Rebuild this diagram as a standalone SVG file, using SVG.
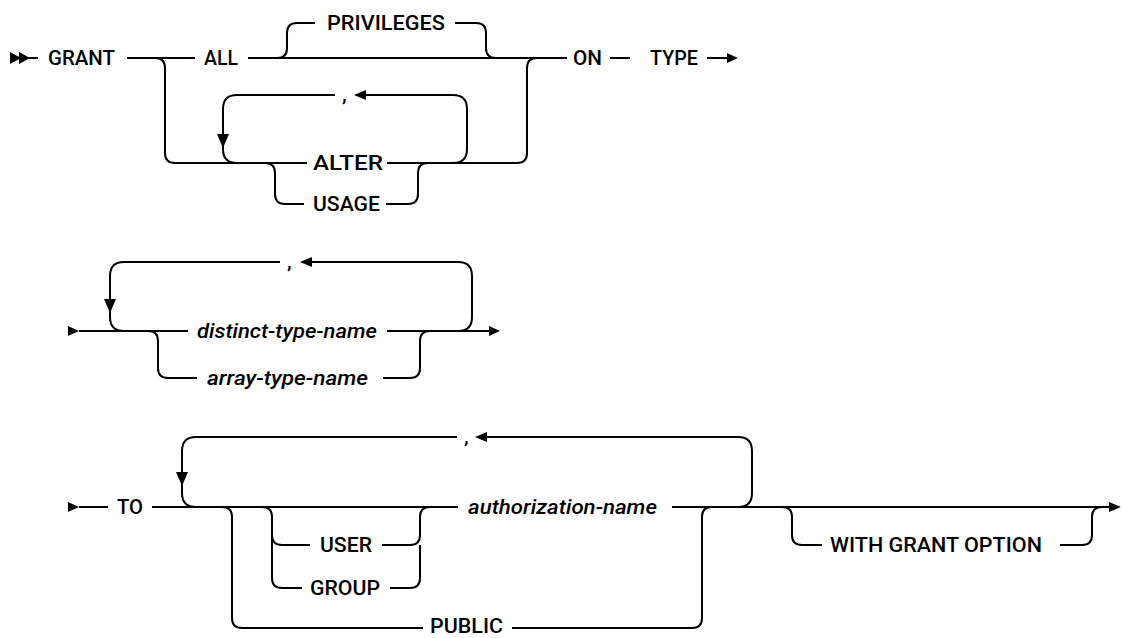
<svg xmlns="http://www.w3.org/2000/svg" width="1122" height="638" viewBox="0 0 1122 638">
<style>
.ln{fill:none;stroke:#000;stroke-width:2;stroke-linejoin:round}
.ah{fill:#000;stroke:none}
.kw{font-family:Roboto,"Liberation Sans",sans-serif;font-size:21px;font-weight:500;fill:#000}
.it{font-family:Roboto,"Liberation Sans",sans-serif;font-size:21px;font-weight:500;font-style:italic;fill:#000}
</style>
<rect width="1122" height="638" fill="#fff"/>
<g id="connectors">
<!-- row 1 -->
<path class="ln" d="M29,58 L38,58"/>
<path class="ln" d="M127,58 L195,58"/>
<path class="ln" d="M155,58 Q165,58 165,68 L165,153 Q165,163 175,163 L307,163"/>
<path class="ln" d="M248,58 L567,58"/>
<path class="ln" d="M277,58 Q287,58 287,48 L287,33 Q287,23 297,23 L315,23"/>
<path class="ln" d="M455,23 L476,23 Q486,23 486,33 L486,48 Q486,58 496,58"/>
<path class="ln" d="M537,58 Q527,58 527,68 L527,153 Q527,163 517,163 L387,163"/>
<path class="ln" d="M453,163 Q467,163 467,149 L467,109 Q467,95 453,95 L364,95"/>
<path class="ln" d="M335,95 L237,95 Q223,95 223,109 L223,149 Q223,163 237,163"/>
<path class="ln" d="M265,163 Q275,163 275,173 L275,194 Q275,204 285,204 L304,204"/>
<path class="ln" d="M386,204 L408,204 Q418,204 418,194 L418,173 Q418,163 428,163"/>
<path class="ln" d="M610,58 L630,58"/>
<path class="ln" d="M707,58 L729,58"/>
<polygon class="ah" points="10,52 21,58 10,64"/>
<polygon class="ah" points="19,52 30,58 19,64"/>
<polygon class="ah" points="217,134 229,134 223,148"/>
<polygon class="ah" points="366,90 366,100 354,95"/>
<polygon class="ah" points="727,53 738,58 727,63"/>
<!-- row 2 -->
<path class="ln" d="M79,331 L188,331"/>
<path class="ln" d="M280,262 L124,262 Q110,262 110,276 L110,317 Q110,331 124,331"/>
<path class="ln" d="M148,331 Q158,331 158,341 L158,368 Q158,378 168,378 L197,378"/>
<path class="ln" d="M383,378 L410,378 Q420,378 420,368 L420,341 Q420,331 430,331"/>
<path class="ln" d="M387,331 L491,331"/>
<path class="ln" d="M458,331 Q472,331 472,317 L472,276 Q472,262 458,262 L310,262"/>
<polygon class="ah" points="68,326 79,331 68,336"/>
<polygon class="ah" points="104,299 116,299 110,313"/>
<polygon class="ah" points="312,257 312,267 300,262"/>
<polygon class="ah" points="489,326 500,331 489,336"/>
<!-- row 3 -->
<path class="ln" d="M79,507 L108,507"/>
<path class="ln" d="M152,507 L458,507"/>
<path class="ln" d="M457,437 L196,437 Q182,437 182,451 L182,493 Q182,507 196,507"/>
<path class="ln" d="M222,507 Q232,507 232,517 L232,618 Q232,628 242,628 L423,628"/>
<path class="ln" d="M262,507 Q272,507 272,517 L272,578 Q272,588 282,588 L302,588"/>
<path class="ln" d="M272,535 Q272,545 282,545 L310,545"/>
<path class="ln" d="M382,545 L410,545 Q420,545 420,535 L420,517 Q420,507 430,507"/>
<path class="ln" d="M390,588 L410,588 Q420,588 420,578 L420,545"/>
<path class="ln" d="M672,507 L1110,507"/>
<path class="ln" d="M738,507 Q752,507 752,493 L752,451 Q752,437 738,437 L487,437"/>
<path class="ln" d="M512,628 L692,628 Q702,628 702,618 L702,517 Q702,507 712,507"/>
<path class="ln" d="M782,507 Q792,507 792,517 L792,535 Q792,545 802,545 L822,545"/>
<path class="ln" d="M1060,545 L1082,545 Q1092,545 1092,535 L1092,517 Q1092,507 1102,507"/>
<polygon class="ah" points="68,502 79,507 68,512"/>
<polygon class="ah" points="176,472 188,472 182,486"/>
<polygon class="ah" points="487,432 487,442 475,437"/>
<polygon class="ah" points="1109,502 1121,507 1109,512"/>
</g>
<g id="n-grant"><text class="kw" x="48" y="65" textLength="67" lengthAdjust="spacingAndGlyphs">GRANT</text></g>
<g id="n-all"><text class="kw" x="204" y="65" textLength="34" lengthAdjust="spacingAndGlyphs">ALL</text></g>
<g id="n-privileges"><text class="kw" x="327" y="30" textLength="118" lengthAdjust="spacingAndGlyphs">PRIVILEGES</text></g>
<g id="n-comma1"><text class="kw" x="342" y="101">,</text></g>
<g id="n-alter"><text class="kw" x="313" y="170" textLength="70" lengthAdjust="spacingAndGlyphs">ALTER</text></g>
<g id="n-usage"><text class="kw" x="313" y="211" textLength="67" lengthAdjust="spacingAndGlyphs">USAGE</text></g>
<g id="n-on"><text class="kw" x="573" y="65" textLength="29" lengthAdjust="spacingAndGlyphs">ON</text></g>
<g id="n-type"><text class="kw" x="650" y="65" textLength="48" lengthAdjust="spacingAndGlyphs">TYPE</text></g>
<g id="n-comma2"><text class="kw" x="287" y="268">,</text></g>
<g id="n-distinct"><text class="it" x="197" y="338" textLength="180" lengthAdjust="spacingAndGlyphs">distinct-type-name</text></g>
<g id="n-array"><text class="it" x="207" y="385" textLength="161" lengthAdjust="spacingAndGlyphs">array-type-name</text></g>
<g id="n-to"><text class="kw" x="117" y="514" textLength="26" lengthAdjust="spacingAndGlyphs">TO</text></g>
<g id="n-comma3"><text class="kw" x="464" y="443">,</text></g>
<g id="n-authname"><text class="it" x="468" y="514" textLength="189" lengthAdjust="spacingAndGlyphs">authorization-name</text></g>
<g id="n-user"><text class="kw" x="320" y="552" textLength="52" lengthAdjust="spacingAndGlyphs">USER</text></g>
<g id="n-group"><text class="kw" x="310" y="595" textLength="70" lengthAdjust="spacingAndGlyphs">GROUP</text></g>
<g id="n-public"><text class="kw" x="430" y="633" textLength="73" lengthAdjust="spacingAndGlyphs">PUBLIC</text></g>
<g id="n-withgrant"><text class="kw" x="830" y="552" textLength="212" lengthAdjust="spacingAndGlyphs">WITH GRANT OPTION</text></g>
</svg>
